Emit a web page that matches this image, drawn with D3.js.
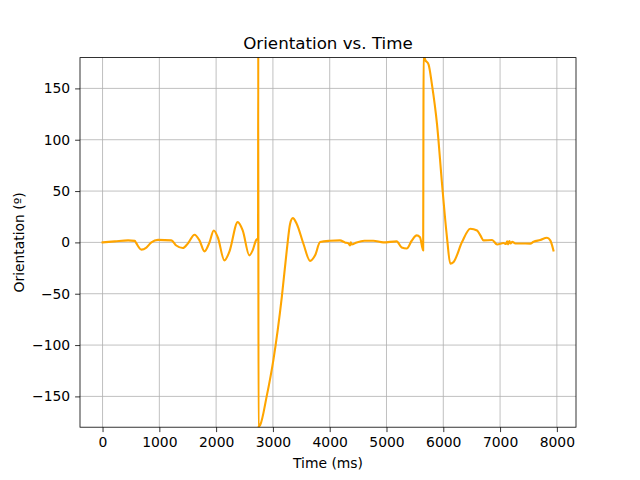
<!DOCTYPE html>
<html><head><meta charset="utf-8">
<script src="https://cdn.jsdelivr.net/npm/d3@7"></script>
<style>body{margin:0;background:#fff}svg{display:block}text{font-family:"DejaVu Sans",sans-serif}</style>
</head><body>
<svg id="c" width="640" height="480"></svg>
<script>
const timeMs = [0,216,450,567,596,684,772,860,977,1210,1298,1415,1503,1620,1707,1795,1883,1959,2029,2146,2234,2380,2468,2585,2643,2702,2731,2738,2742,2746,2750,2775,2890,3008,3157,3244,3302,3350,3420,3537,3655,3743,3831,4006,4180,4268,4330,4360,4372,4385,4475,4610,4768,4943,5180,5268,5356,5444,5532,5590,5646,5650,5654,5680,5740,5800,5890,5978,6065,6123,6182,6330,6476,6595,6653,6710,6860,6948,7060,7105,7125,7140,7165,7185,7215,7270,7357,7532,7590,7708,7826,7884,7940];
const orientation = [0,1,2,1.5,-1,-7,-5,0,2.5,2,-3,-5.5,-1,7.5,2,-8.7,0,11.6,5,-17.5,-9,19.7,11.6,-12.6,-7.8,2,3.6,4,185,-185,-179.5,-178,-150,-114.6,-53,-7.8,18,23.6,18,-1.3,-18,-12.6,0.3,1.6,2,0,-1,-3,0,-2,0,1.6,1.6,0,1,-5,-6,1.6,6.8,5,-7.8,100,185,178,173.5,154,115,57,5,-20.7,-19,0.3,13.3,11.6,6.8,2,2.3,-2,-0.6,-1.5,1,-2,1.2,-1,0.5,-1,-1,-1.2,0.6,2.3,4.5,2,-7.8];
const xTicks = [0,1000,2000,3000,4000,5000,6000,7000,8000];
const yTicks = [-150,-100,-50,0,50,100,150];
const data = timeMs.map((t,i)=>({t, v: orientation[i]}));

const svg = d3.select("#c");
const L=80, R=576, T=57.6, B=427.2;
const x = d3.scaleLinear().domain([-397,8337]).range([L,R]);
const y = d3.scaleLinear().domain([-180,180]).range([B,T]);

// grid
svg.append("g").selectAll("line").data(xTicks).join("line")
  .attr("x1",d=>x(d)).attr("x2",d=>x(d)).attr("y1",T).attr("y2",B)
  .attr("stroke","#b0b0b0").attr("stroke-width",0.8);
svg.append("g").selectAll("line").data(yTicks).join("line")
  .attr("y1",d=>y(d)).attr("y2",d=>y(d)).attr("x1",L).attr("x2",R)
  .attr("stroke","#b0b0b0").attr("stroke-width",0.8);

svg.append("clipPath").attr("id","clip").append("rect")
  .attr("x",L).attr("y",T).attr("width",R-L).attr("height",B-T);

svg.append("path").datum(data)
  .attr("clip-path","url(#clip)")
  .attr("fill","none").attr("stroke","#FFA500").attr("stroke-width",2.1)
  .attr("stroke-linejoin","round").attr("stroke-linecap","square")
  .attr("d", d3.line().x(d=>x(d.t)).y(d=>y(d.v)).curve(d3.curveMonotoneX));

const xAxis = d3.axisBottom(x).tickValues(xTicks).tickFormat(d3.format("d")).tickSize(4.9).tickPadding(4.9);
const gx = svg.append("g").attr("transform",`translate(0,${B})`).call(xAxis);
const yAxis = d3.axisLeft(y).tickValues(yTicks).tickFormat(d=>d<0?"\u2212"+(-d):d).tickSize(4.9).tickPadding(4.9);
const gy = svg.append("g").attr("transform",`translate(${L},0)`).call(yAxis);
[gx,gy].forEach(g=>{
  g.select(".domain").remove();
  g.selectAll(".tick line").attr("stroke","#000").attr("stroke-width",0.8);
  g.selectAll(".tick text").attr("font-size","13.9px").attr("fill","#000").attr("font-family","DejaVu Sans");
});

svg.append("rect").attr("x",L).attr("y",T).attr("width",R-L).attr("height",B-T)
  .attr("fill","none").attr("stroke","#000").attr("stroke-width",0.8);

svg.append("text").attr("x",(L+R)/2).attr("y",49).attr("text-anchor","middle")
  .attr("font-size","16.7px").text("Orientation vs. Time");
svg.append("text").attr("x",(L+R)/2).attr("y",468).attr("text-anchor","middle")
  .attr("font-size","13.9px").text("Time (ms)");
svg.append("text").attr("transform",`translate(24,${(T+B)/2}) rotate(-90)`).attr("text-anchor","middle")
  .attr("font-size","13.9px").text("Orientation (º)");
</script>
</body></html>
